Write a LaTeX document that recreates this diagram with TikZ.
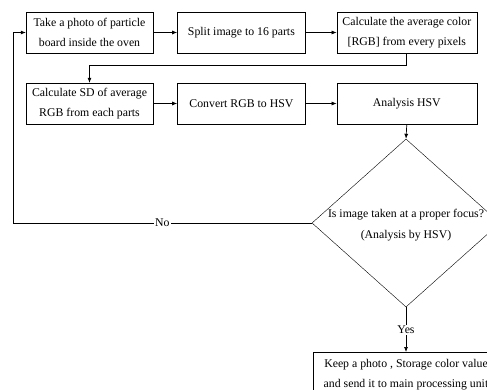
\documentclass[tikz,border=0pt]{standalone}
\usepackage{fontspec}
\setmainfont{Liberation Serif}
\usetikzlibrary{arrows.meta, positioning, shapes.geometric}

\begin{document}
\begin{tikzpicture}[
  x=1pt, y=-1pt,
  st/.style={draw, align=center, minimum height=41pt, inner sep=0pt,
             font=\fontsize{11.8}{20}\selectfont},
  dmd/.style={draw, diamond, minimum width=188pt, minimum height=168pt, inner sep=0pt},
  txt/.style={align=center, font=\fontsize{11.8}{21}\selectfont},
  arr/.style={-{Latex[length=5pt,width=4pt]}, line width=0.7pt},
  lbl/.style={fill=white, inner sep=1pt, font=\fontsize{11.8}{13}\selectfont},
  node distance=24pt
]
\useasboundingbox (0,0) rectangle (487,390);
\clip (0,0) rectangle (487,390);
% top row
\node[st, minimum width=127pt] (s1) at (89.5,32.5) {Take a photo of particle\\board inside the oven};
\node[st, minimum width=128pt, right=of s1] (s2) {Split image to 16 parts};
\node[st, minimum width=140pt, right=31pt of s2] (s3) {Calculate the average color\\{[RGB]} from every pixels};
% second row
\node[st, minimum width=127pt] (s4) at (89.5,103.5) {Calculate SD of average\\RGB from each parts};
\node[st, minimum width=128pt, right=of s4] (s5) {Convert RGB to HSV};
\node[st, minimum width=140pt, right=31pt of s5] (s6) {Analysis HSV};
% decision
\node[dmd] (dec) at (406,223) {};
\node[txt] (q) at (406,225) {Is image taken at a proper focus?\\(Analysis by HSV)};
\node[st, minimum width=186pt, minimum height=45pt, anchor=north] (s7) at (406,352)
     {Keep a photo , Storage color value\\and send it to main processing unit};
\coordinate (back) at (13,223);
\draw[arr] (s1) -- (s2);
\draw[arr] (s2) -- (s3);
\draw[arr] (s3.south) -- ++(0,12) -| (s4.north);
\draw[arr] (s4) -- (s5);
\draw[arr] (s5) -- (s6);
\draw[arr] (s6.south) -- (dec.north);
\draw[arr] (dec.south) -- node[lbl]{Yes} (s7.north);
\draw[arr] (dec.west) -- node[lbl]{No} (back) |- (s1.west);
\end{tikzpicture}
\end{document}
